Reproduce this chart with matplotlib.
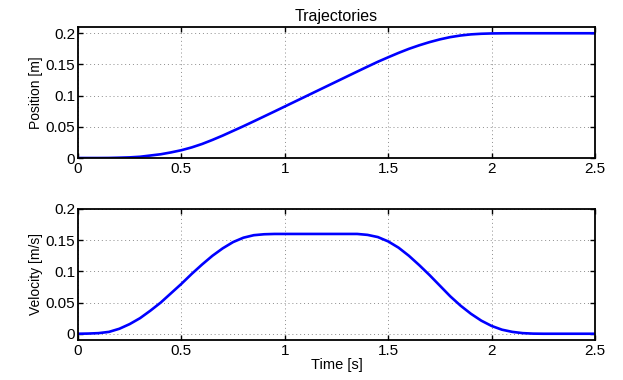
import numpy as np
import matplotlib.pyplot as plt
from matplotlib.ticker import FuncFormatter

# --- data (0.05 s steps) ---
time_s = np.round(np.arange(0, 2.5001, 0.05), 2)

position_m = [
    0.0, 0.0, 0.0, 0.0001, 0.0005, 0.001, 0.002, 0.004, 0.006, 0.009,
    0.0125, 0.017, 0.0225, 0.029, 0.036, 0.0435, 0.051, 0.0588, 0.0667, 0.0746,
    0.0826, 0.0906, 0.0986, 0.1066, 0.1146, 0.1226, 0.1306, 0.1386, 0.1465, 0.1543,
    0.1615, 0.1685, 0.175, 0.1807, 0.1858, 0.1902, 0.1938, 0.1964, 0.1982, 0.1992,
    0.1997, 0.1999, 0.2, 0.2, 0.2, 0.2, 0.2, 0.2, 0.2, 0.2, 0.2,
]

velocity_ms = [
    0.0, 0.0003, 0.001, 0.003, 0.008, 0.0155, 0.025, 0.037, 0.050, 0.065,
    0.080, 0.096, 0.111, 0.125, 0.137, 0.147, 0.154, 0.158, 0.1595, 0.160,
    0.160, 0.160, 0.160, 0.160, 0.160, 0.160, 0.160, 0.160, 0.1585, 0.155,
    0.148, 0.138, 0.125, 0.110, 0.094, 0.077, 0.060, 0.045, 0.032, 0.021,
    0.0125, 0.0065, 0.003, 0.001, 0.0002, 0.0, 0.0, 0.0, 0.0, 0.0, 0.0,
]

x_ticks = [0, 0.5, 1, 1.5, 2, 2.5]
y_ticks = [0, 0.05, 0.1, 0.15, 0.2]

plt.rcParams['font.family'] = ['Liberation Sans', 'DejaVu Sans']

fig = plt.figure(figsize=(6.23, 3.80), dpi=100)
ax1 = fig.add_axes([0.1252, 0.5842, 0.8299, 0.3447])
ax2 = fig.add_axes([0.1252, 0.1053, 0.8299, 0.3447])

fmt = FuncFormatter(lambda v, p: f"{v:g}")

for ax, y, ylab, ylim in [
    (ax1, position_m, 'Position [m]', (0, 0.21)),
    (ax2, velocity_ms, 'Velocity [m/s]', (-0.01, 0.2)),
]:
    ax.plot(time_s, y, color='#0000ff', linewidth=1.9)
    ax.set_xlim(0, 2.5)
    ax.set_ylim(*ylim)
    ax.set_xticks(x_ticks)
    ax.set_yticks(y_ticks)
    ax.xaxis.set_major_formatter(fmt)
    ax.yaxis.set_major_formatter(fmt)
    ax.grid(True, color='0.55', linestyle=(0, (1, 3)), linewidth=0.7)
    ax.tick_params(direction='in', top=True, right=True, length=3.5, width=1,
                   labelsize=11, pad=2)
    ax.tick_params(axis='x', pad=3)
    for s in ax.spines.values():
        s.set_linewidth(1.3)
    ax.set_ylabel(ylab, fontsize=10, labelpad=2)

ax1.set_title('Trajectories', fontsize=11.5, pad=4)
ax2.set_xlabel('Time [s]', fontsize=10.5, labelpad=0)

fig.savefig('out.png', dpi=100)
